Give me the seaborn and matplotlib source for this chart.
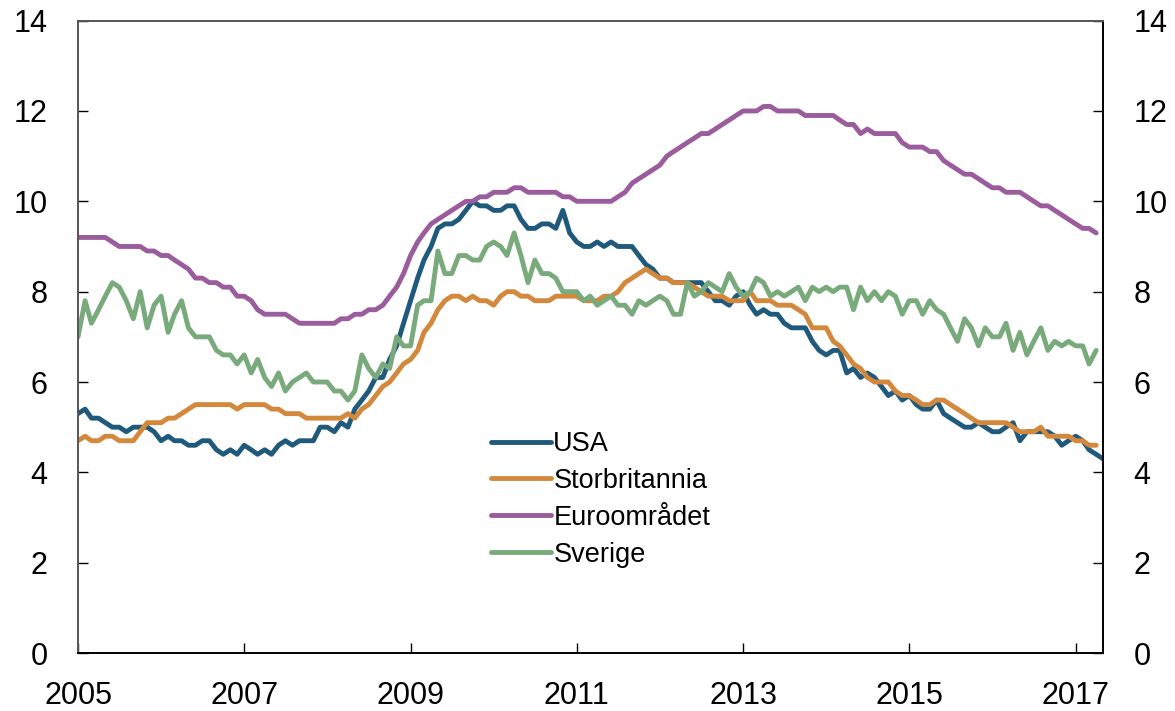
import pandas as pd
import matplotlib
matplotlib.use("Agg")
import matplotlib.pyplot as plt
import seaborn as sns

# Arbeidsledighet i prosent, månedstall fra januar 2005
usa = [5.3, 5.4, 5.2, 5.2, 5.1, 5.0, 5.0, 4.9, 5.0, 5.0, 5.0, 4.9,
       4.7, 4.8, 4.7, 4.7, 4.6, 4.6, 4.7, 4.7, 4.5, 4.4, 4.5, 4.4,
       4.6, 4.5, 4.4, 4.5, 4.4, 4.6, 4.7, 4.6, 4.7, 4.7, 4.7, 5.0,
       5.0, 4.9, 5.1, 5.0, 5.4, 5.6, 5.8, 6.1, 6.1, 6.5, 6.8, 7.3,
       7.8, 8.3, 8.7, 9.0, 9.4, 9.5, 9.5, 9.6, 9.8, 10.0, 9.9, 9.9,
       9.8, 9.8, 9.9, 9.9, 9.6, 9.4, 9.4, 9.5, 9.5, 9.4, 9.8, 9.3,
       9.1, 9.0, 9.0, 9.1, 9.0, 9.1, 9.0, 9.0, 9.0, 8.8, 8.6, 8.5,
       8.3, 8.3, 8.2, 8.2, 8.2, 8.2, 8.2, 8.0, 7.8, 7.8, 7.7, 7.9,
       8.0, 7.7, 7.5, 7.6, 7.5, 7.5, 7.3, 7.2, 7.2, 7.2, 6.9, 6.7,
       6.6, 6.7, 6.7, 6.2, 6.3, 6.1, 6.2, 6.1, 5.9, 5.7, 5.8, 5.6,
       5.7, 5.5, 5.4, 5.4, 5.6, 5.3, 5.2, 5.1, 5.0, 5.0, 5.1, 5.0,
       4.9, 4.9, 5.0, 5.1, 4.7, 4.9, 4.9, 4.9, 4.9, 4.8, 4.6, 4.7,
       4.8, 4.7, 4.5, 4.4, 4.3]

storbritannia = [4.7, 4.8, 4.7, 4.7, 4.8, 4.8, 4.7, 4.7, 4.7, 4.9, 5.1, 5.1,
                 5.1, 5.2, 5.2, 5.3, 5.4, 5.5, 5.5, 5.5, 5.5, 5.5, 5.5, 5.4,
                 5.5, 5.5, 5.5, 5.5, 5.4, 5.4, 5.3, 5.3, 5.3, 5.2, 5.2, 5.2,
                 5.2, 5.2, 5.2, 5.3, 5.2, 5.4, 5.5, 5.7, 5.9, 6.0, 6.2, 6.4,
                 6.5, 6.7, 7.1, 7.3, 7.6, 7.8, 7.9, 7.9, 7.8, 7.9, 7.8, 7.8,
                 7.7, 7.9, 8.0, 8.0, 7.9, 7.9, 7.8, 7.8, 7.8, 7.9, 7.9, 7.9,
                 7.9, 7.8, 7.8, 7.8, 7.9, 7.9, 8.0, 8.2, 8.3, 8.4, 8.5, 8.4,
                 8.3, 8.3, 8.2, 8.2, 8.2, 8.1, 8.0, 7.9, 7.9, 7.9, 7.8, 7.8,
                 7.8, 8.0, 7.8, 7.8, 7.8, 7.7, 7.7, 7.7, 7.6, 7.5, 7.2, 7.2,
                 7.2, 6.9, 6.8, 6.6, 6.4, 6.3, 6.1, 6.0, 6.0, 6.0, 5.8, 5.7,
                 5.7, 5.6, 5.5, 5.5, 5.6, 5.6, 5.5, 5.4, 5.3, 5.2, 5.1, 5.1,
                 5.1, 5.1, 5.1, 5.0, 4.9, 4.9, 4.9, 5.0, 4.8, 4.8, 4.8, 4.8,
                 4.7, 4.7, 4.6, 4.6]

euroomradet = [9.2, 9.2, 9.2, 9.2, 9.2, 9.1, 9.0, 9.0, 9.0, 9.0, 8.9, 8.9,
               8.8, 8.8, 8.7, 8.6, 8.5, 8.3, 8.3, 8.2, 8.2, 8.1, 8.1, 7.9,
               7.9, 7.8, 7.6, 7.5, 7.5, 7.5, 7.5, 7.4, 7.3, 7.3, 7.3, 7.3,
               7.3, 7.3, 7.4, 7.4, 7.5, 7.5, 7.6, 7.6, 7.7, 7.9, 8.1, 8.4,
               8.8, 9.1, 9.3, 9.5, 9.6, 9.7, 9.8, 9.9, 10.0, 10.0, 10.1, 10.1,
               10.2, 10.2, 10.2, 10.3, 10.3, 10.2, 10.2, 10.2, 10.2, 10.2, 10.1, 10.1,
               10.0, 10.0, 10.0, 10.0, 10.0, 10.0, 10.1, 10.2, 10.4, 10.5, 10.6, 10.7,
               10.8, 11.0, 11.1, 11.2, 11.3, 11.4, 11.5, 11.5, 11.6, 11.7, 11.8, 11.9,
               12.0, 12.0, 12.0, 12.1, 12.1, 12.0, 12.0, 12.0, 12.0, 11.9, 11.9, 11.9,
               11.9, 11.9, 11.8, 11.7, 11.7, 11.5, 11.6, 11.5, 11.5, 11.5, 11.5, 11.3,
               11.2, 11.2, 11.2, 11.1, 11.1, 10.9, 10.8, 10.7, 10.6, 10.6, 10.5, 10.4,
               10.3, 10.3, 10.2, 10.2, 10.2, 10.1, 10.0, 9.9, 9.9, 9.8, 9.7, 9.6,
               9.5, 9.4, 9.4, 9.3]

sverige = [7.0, 7.8, 7.3, 7.6, 7.9, 8.2, 8.1, 7.8, 7.4, 8.0, 7.2, 7.7,
           7.9, 7.1, 7.5, 7.8, 7.2, 7.0, 7.0, 7.0, 6.7, 6.6, 6.6, 6.4,
           6.6, 6.2, 6.5, 6.1, 5.9, 6.2, 5.8, 6.0, 6.1, 6.2, 6.0, 6.0,
           6.0, 5.8, 5.8, 5.6, 5.8, 6.6, 6.3, 6.1, 6.4, 6.3, 7.0, 6.8,
           6.8, 7.7, 7.8, 7.8, 8.9, 8.4, 8.4, 8.8, 8.8, 8.7, 8.7, 9.0,
           9.1, 9.0, 8.8, 9.3, 8.8, 8.2, 8.7, 8.4, 8.4, 8.3, 8.0, 8.0,
           8.0, 7.8, 7.9, 7.7, 7.8, 7.9, 7.7, 7.7, 7.5, 7.8, 7.7, 7.8,
           7.9, 7.8, 7.5, 7.5, 8.2, 7.9, 8.0, 8.2, 8.1, 8.0, 8.4, 8.1,
           7.9, 8.0, 8.3, 8.2, 7.9, 8.0, 7.9, 8.0, 8.1, 7.8, 8.1, 8.0,
           8.1, 8.0, 8.1, 8.1, 7.6, 8.1, 7.8, 8.0, 7.8, 8.0, 7.9, 7.5,
           7.8, 7.8, 7.5, 7.8, 7.6, 7.5, 7.2, 6.9, 7.4, 7.2, 6.8, 7.2,
           7.0, 7.0, 7.3, 6.7, 7.1, 6.6, 6.9, 7.2, 6.7, 6.9, 6.8, 6.9,
           6.8, 6.8, 6.4, 6.7]

land = ["USA", "Storbritannia", "Euroområdet", "Sverige"]
farger = ["#1f5a7c", "#d4883b", "#9b5c9d", "#79aa7b"]
tick_years = [2005, 2007, 2009, 2011, 2013, 2015, 2017]
y_ticks = [0, 2, 4, 6, 8, 10, 12, 14]

# Bygg en lang tabell for seaborn
frames = []
for navn, verdier in zip(land, [usa, storbritannia, euroomradet, sverige]):
    datoer = pd.date_range("2005-01-01", periods=len(verdier), freq="MS")
    frames.append(pd.DataFrame({"dato": datoer, "ledighet": verdier, "land": navn}))
df = pd.concat(frames, ignore_index=True)

sns.set_style("white")
plt.rcParams["font.family"] = ["Liberation Sans", "DejaVu Sans"]
plt.rcParams["text.color"] = "black"
plt.rcParams["xtick.color"] = "black"
plt.rcParams["ytick.color"] = "black"

fig, ax = plt.subplots(figsize=(11.75, 7.11), dpi=100)
fig.subplots_adjust(left=0.0664, right=0.9387, top=0.971, bottom=0.0815)

sns.lineplot(data=df, x="dato", y="ledighet", hue="land", hue_order=land,
             palette=farger, linewidth=3.5, ax=ax)

ax.set_xlim(pd.Timestamp("2005-01-01"), pd.Timestamp("2017-05-01"))
ax.set_ylim(0, 14)
ax.set_yticks(y_ticks)
ax.set_xticks([pd.Timestamp(f"{y}-01-01") for y in tick_years])
ax.set_xticklabels([str(y) for y in tick_years])
ax.set_xlabel("")
ax.set_ylabel("")

ax.tick_params(axis="y", direction="in", length=7, width=1, left=True, right=True,
               labelleft=True, labelright=True, labelsize=22, pad=22)
ax.tick_params(axis="x", direction="in", length=7, width=1, bottom=True,
               labelsize=22, pad=20)

for side in ["left", "top"]:
    ax.spines[side].set_color("#555555")
for side in ["right", "bottom"]:
    ax.spines[side].set_color("black")
for sp in ax.spines.values():
    sp.set_linewidth(1.4)

leg = ax.legend(loc="center left", bbox_to_anchor=(0.403, 0.243), frameon=False,
                fontsize=19.5, handlelength=2.2, handletextpad=0.1, labelspacing=0.4,
                borderaxespad=0, borderpad=0)
for line in leg.get_lines():
    line.set_linewidth(3.5)

plt.savefig("out.png", dpi=100)
